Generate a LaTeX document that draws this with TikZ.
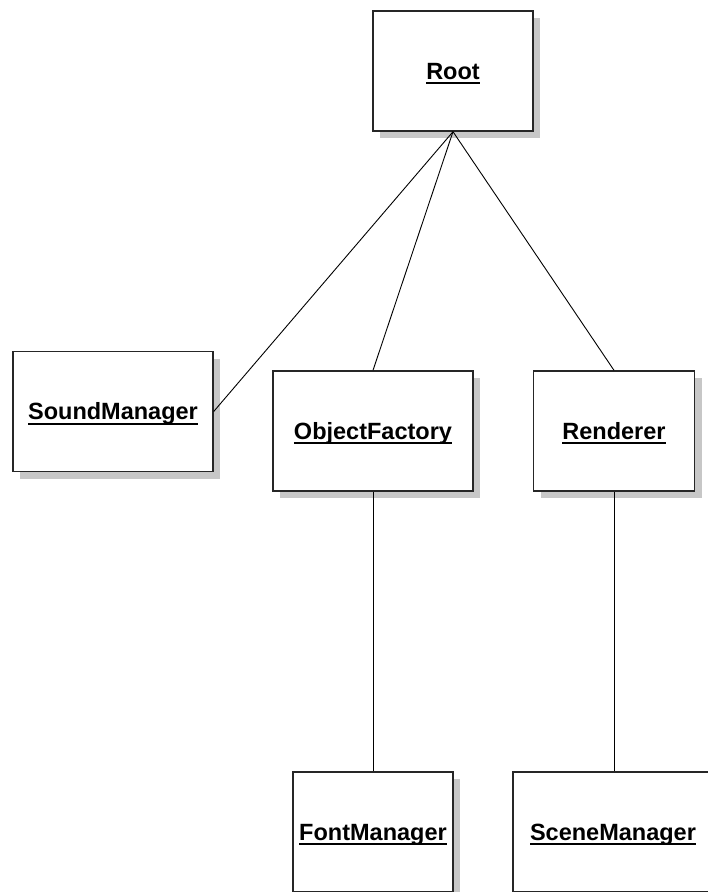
\documentclass[tikz,border=0pt]{standalone}
\usepackage{fontspec}
\setmainfont{Liberation Sans}
\usetikzlibrary{shadows}
% underlined class name
\newcommand\ulabel[1]{\setbox0\hbox{#1}\rlap{\copy0}\raisebox{-5pt}{\rule{\wd0}{1.8pt}}}
\begin{document}
\begin{tikzpicture}[x=1pt,y=-1pt,
  classbox/.style={draw=black!85, line width=1.4pt, fill=white,
    minimum height=120pt, inner sep=0pt, text height=17pt, text depth=1pt,
    font=\fontsize{23.5}{26}\selectfont\bfseries,
    drop shadow={shadow xshift=7pt, shadow yshift=-7pt, fill=black!22, opacity=1}},
  link/.style={draw=black, line width=0.9pt}]
\useasboundingbox (0,0) rectangle (708,892);
\begin{scope}
\clip (0,0) rectangle (708,892);
\node[classbox, minimum width=160pt] (root)     at (453,71)    {\ulabel{Root}};
\node[classbox, minimum width=200pt] (sound)    at (113,411.5) {\ulabel{SoundManager}};
\node[classbox, minimum width=200pt] (factory)  at (373,431)   {\ulabel{ObjectFactory}};
\node[classbox, minimum width=161pt] (renderer) at (614,431)   {\ulabel{Renderer}};
\node[classbox, minimum width=160pt] (font)     at (373,832)   {\ulabel{FontManager}};
\node[classbox, minimum width=200pt] (scene)    at (613,832)   {\ulabel{SceneManager}};

\draw[link] (root.south) -- (sound.east);
\draw[link] (root.south) -- (factory.north);
\draw[link] (root.south) -- (renderer.north);
\draw[link] (factory.south) -- (font.north);
\draw[link] (renderer.south) -- (renderer.south |- scene.north);
\end{scope}
\end{tikzpicture}
\end{document}
